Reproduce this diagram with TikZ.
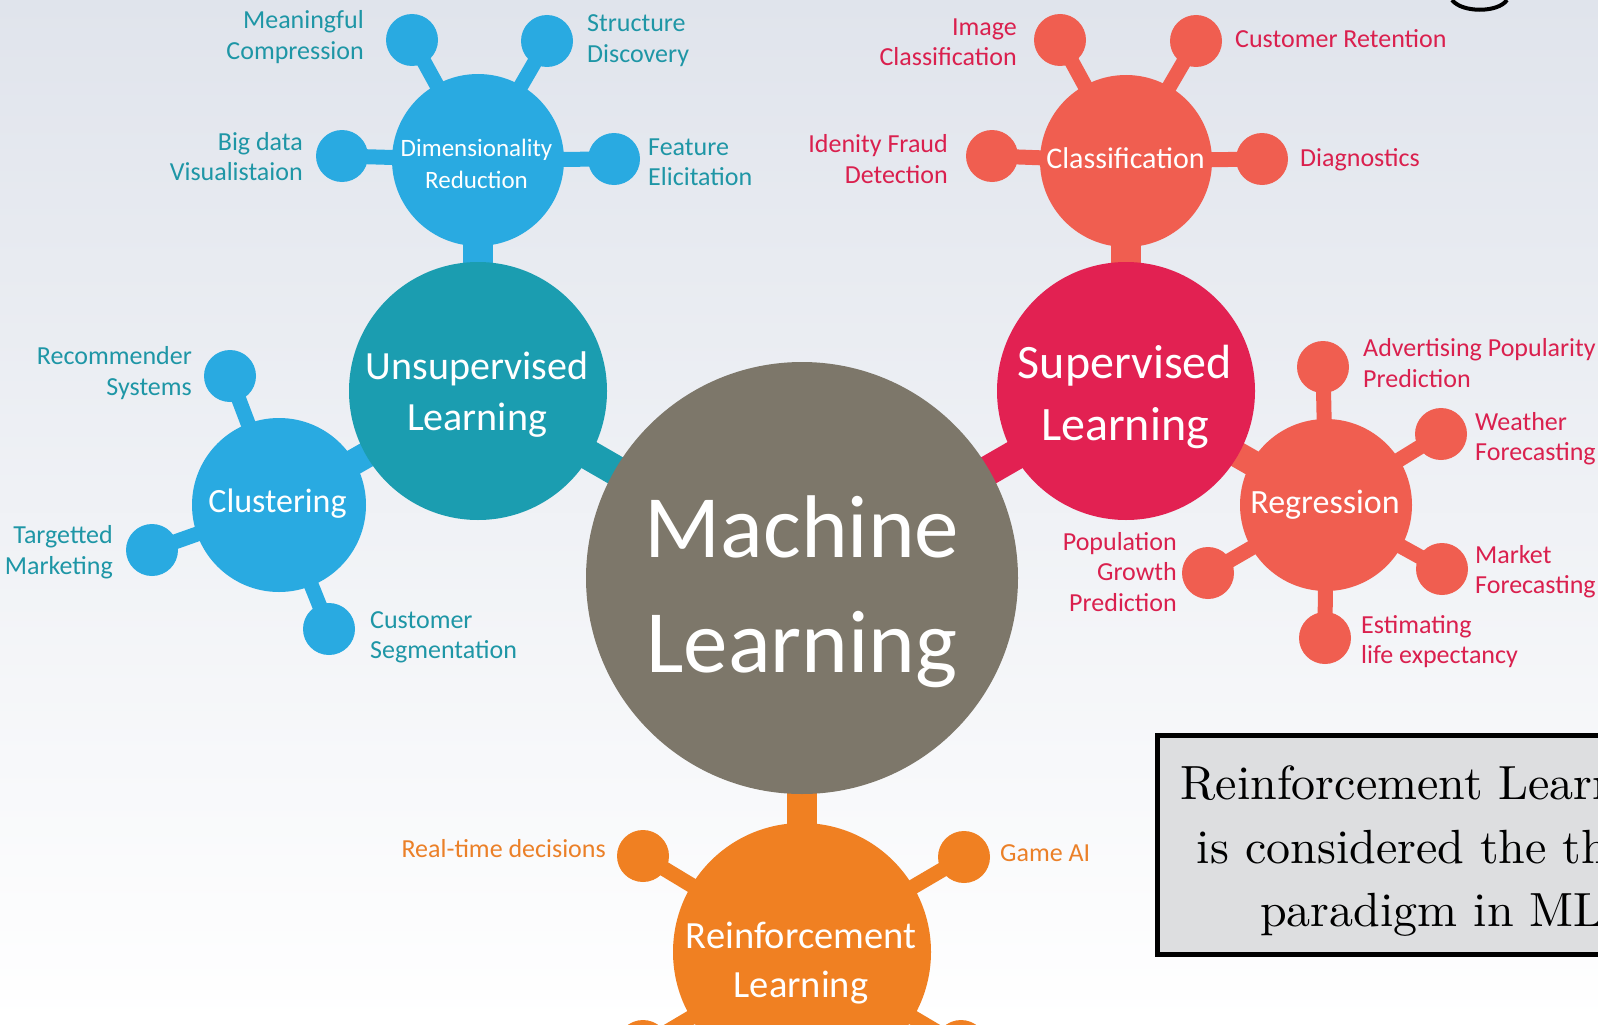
\documentclass[tikz,border=0pt]{standalone}
\usepackage{fontspec}
\newfontfamily\carl{Carlito}
\newfontfamily\lmten{lmroman10-regular.otf}
\definecolor{mlgray}{RGB}{125,119,106}
\definecolor{teali}{RGB}{27,157,176}
\definecolor{blu}{RGB}{41,170,225}
\definecolor{crim}{RGB}{226,33,82}
\definecolor{salm}{RGB}{240,94,80}
\definecolor{orng}{RGB}{240,128,34}
\definecolor{tlbl}{RGB}{30,150,166}
\definecolor{rlbl}{RGB}{218,32,78}
\definecolor{olbl}{RGB}{235,128,40}
\definecolor{bgtop}{RGB}{224,228,236}
\definecolor{bgmid}{RGB}{240,242,246}
\definecolor{boxgray}{RGB}{221,222,224}
\pgfdeclarelayer{back}
\pgfsetlayers{back,main}
\begin{document}
\begin{tikzpicture}[x=1pt,y=-1pt,
  bub/.style={circle,inner sep=0pt,minimum size=#1},
  sat/.style={circle,inner sep=0pt,minimum size=52pt},
  stemline/.style={line width=15pt},
  barline/.style={line width=30pt},
  lbl/.style={font=\carl\fontsize{26}{30.5}\selectfont,inner sep=0pt},
  intext/.style={text=white,align=center,inner sep=0pt}]
\useasboundingbox (0,0) rectangle (1598,1025);
\begin{pgfonlayer}{back}
  \clip (0,0) rectangle (1598,1025);
  \shade[top color=bgtop,middle color=bgmid,bottom color=white] (0,0) rectangle (1598,1025);
\end{pgfonlayer}
\clip (0,0) rectangle (1598,1025);

% main hubs
\node[bub=432pt,fill=mlgray] (ml) at (802,578) {};
\node[bub=258pt,fill=teali] (un) at (478,391) {};
\node[bub=258pt,fill=crim] (sup) at (1126,391) {};
\node[bub=258pt,fill=orng] (rl) at (802,952) {};
\node[bub=172pt,fill=blu] (dim) at (478,160) {};
\node[bub=174pt,fill=blu] (clu) at (279,505) {};
\node[bub=172pt,fill=salm] (cls) at (1126,161) {};
\node[bub=172pt,fill=salm] (reg) at (1326,505) {};

% satellites
\node[sat,fill=blu] (mc) at (412,40) {};
\node[sat,fill=blu] (sd) at (547,41) {};
\node[sat,fill=blu] (bd) at (342,156) {};
\node[sat,fill=blu] (fe) at (614,159) {};
\node[sat,fill=blu] (rs) at (230,376) {};
\node[sat,fill=blu] (tm) at (152,550) {};
\node[sat,fill=blu] (cs) at (329,629) {};
\node[sat,fill=salm] (ic) at (1060,40) {};
\node[sat,fill=salm] (cr) at (1196,41) {};
\node[sat,fill=salm] (ifd) at (992,156) {};
\node[sat,fill=salm] (dg) at (1262,159) {};
\node[sat,fill=salm] (ap) at (1323,367) {};
\node[sat,fill=salm] (wf) at (1441,434) {};
\node[sat,fill=salm] (mf) at (1442,569) {};
\node[sat,fill=salm] (el) at (1325,638) {};
\node[sat,fill=salm] (pg) at (1208,573) {};
\node[sat,fill=orng] (rt) at (643,856) {};
\node[sat,fill=orng] (ga) at (964,857) {};
\node[sat,fill=orng] (bl) at (643,1046) {};
\node[sat,fill=orng] (br) at (961,1046) {};

% connectors
\begin{pgfonlayer}{back}
  \clip (0,0) rectangle (1598,1025);
  \draw[barline,teali] (un.center) -- (ml.center);
  \draw[barline,crim] (sup.center) -- (ml.center);
  \draw[barline,orng] (rl.center) -- (ml.center);
  \draw[barline,blu] (dim.center) -- (un.center);
  \draw[line width=26pt,blu] (clu.center) -- (un.center);
  \draw[barline,salm] (cls.center) -- (sup.center);
  \draw[line width=26pt,salm] (reg.center) -- (sup.center);
  \foreach \s in {mc,sd,bd,fe} \draw[stemline,blu] (\s.center) -- (dim.center);
  \foreach \s in {rs,tm,cs} \draw[stemline,blu] (\s.center) -- (clu.center);
  \foreach \s in {ic,cr,ifd,dg} \draw[stemline,salm] (\s.center) -- (cls.center);
  \foreach \s in {ap,wf,mf,el,pg} \draw[stemline,salm] (\s.center) -- (reg.center);
  \foreach \s in {rt,ga,bl,br} \draw[stemline,orng] (\s.center) -- (rl.center);
\end{pgfonlayer}

% hub texts
\node[intext,font=\carl\fontsize{89}{115}\selectfont] (mlt) at (802,592) {Machine\\Learning};
\node[intext,font=\carl\fontsize{40}{51}\selectfont] (unt) at (477,394.5) {Unsupervised\\Learning};
\node[intext,font=\carl\fontsize{48}{62}\selectfont] (supt) at (1125,397) {Supervised\\Learning};
\node[intext,font=\carl\fontsize{38.5}{49}\selectfont] (rlt) at (801,963) {Reinforcement\\Learning};
\node[intext,font=\carl\fontsize{25}{32}\selectfont] (dimt) at (476.5,164) {Dimensionality\\Reduction};
\node[intext,font=\carl\fontsize{34}{40}\selectfont] (clut) at (277.5,503.5) {Clustering};
\node[intext,font=\carl\fontsize{30}{36}\selectfont] (clst) at (1125.5,158.5) {Classification};
\node[intext,font=\carl\fontsize{34}{40}\selectfont] (regt) at (1325,504.5) {Regression};

% labels: unsupervised side
\node[lbl,text=tlbl,align=right,anchor=east] (mcl) at (364,37) {Meaningful\\Compression};
\node[lbl,text=tlbl,align=left,anchor=west] (sdl) at (587,40.5) {Structure\\Discovery};
\node[lbl,text=tlbl,align=right,anchor=east] (bdl) at (303,156.5) {Big data\\Visualistaion};
\node[lbl,text=tlbl,align=left,anchor=west] (fel) at (648,162.5) {Feature\\Elicitation};
\node[lbl,text=tlbl,align=right,anchor=east] (rsl) at (192,373) {Recommender\\Systems};
\node[lbl,text=tlbl,align=right,anchor=east] (tml) at (113,552) {Targetted\\Marketing};
\node[lbl,text=tlbl,align=left,anchor=west] (csl) at (370,637.5) {Customer\\Segmentation};
% labels: supervised side
\node[lbl,text=rlbl,align=right,anchor=east] (icl) at (1017,42.5) {Image\\Classification};
\node[lbl,text=rlbl,anchor=west] (crl) at (1235,39) {Customer Retention};
\node[lbl,text=rlbl,align=right,anchor=east] (ifl) at (948,159) {Idenity Fraud\\Detection};
\node[lbl,text=rlbl,anchor=west] (dgl) at (1300,159.5) {Diagnostics};
\node[lbl,text=rlbl,align=left,anchor=west] (apl) at (1363,363) {Advertising Popularity\\Prediction};
\node[lbl,text=rlbl,align=left,anchor=west] (wfl) at (1475,438.5) {Weather\\Forecasting};
\node[lbl,text=rlbl,align=left,anchor=west] (mfl) at (1475,571.5) {Market\\Forecasting};
\node[lbl,text=rlbl,align=left,anchor=west] (ell) at (1361,641.5) {Estimating\\life expectancy};
\node[lbl,text=rlbl,align=right,anchor=east] (pgl) at (1177,572) {Population\\Growth\\Prediction};
% labels: reinforcement
\node[lbl,text=olbl,anchor=east] (rtl) at (606,849) {Real-time decisions};
\node[lbl,text=olbl,anchor=west] (gal) at (1000,853) {Game AI};

% note box (runs past the right edge, as in the reference)
\node[draw=black,line width=5pt,fill=boxgray,minimum width=545pt,minimum height=219pt,inner sep=0pt] (note) at (1430,845) {};
\node[align=center,inner sep=0pt,font=\lmten\fontsize{48}{63.5}\selectfont] (notet) at (1432,851.5) {Reinforcement Learning\\is considered the third\\paradigm in ML};

% fragment of a title letter at the top edge
\draw[line width=4pt] (1452,0) .. controls (1462,13) and (1498,13) .. (1507,0);
\end{tikzpicture}
\end{document}
